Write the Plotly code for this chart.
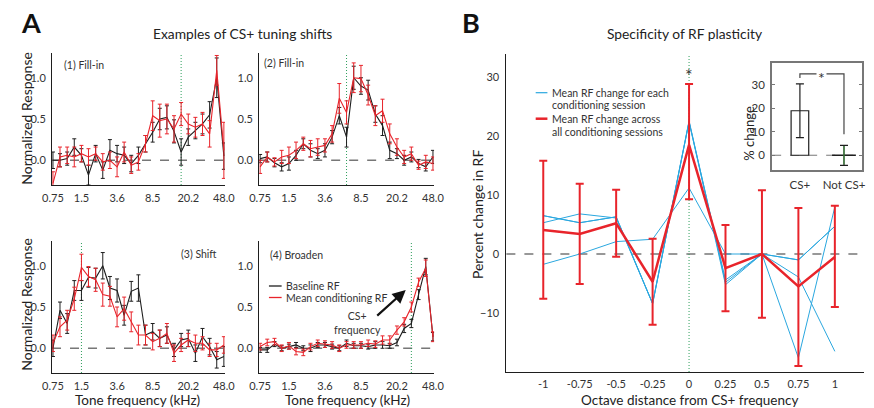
import math
import plotly.graph_objects as go

W, H = 874, 408
FONT = "Lato"
RED = "#e8242b"
BLACK = "#1e1e1e"
BLUE = "#2aa7df"
GREEN = "#2e9e5b"
GRAY = "#777777"

# ---------------- Panel A data ----------------
freqs_khz = [0.75, 0.89, 1.06, 1.26, 1.5, 1.78, 2.12, 2.52, 3.0, 3.57, 4.24, 5.04,
             6.0, 7.13, 8.49, 10.09, 12.0, 14.27, 16.97, 20.18, 24.0, 28.54, 33.94, 40.36, 48.0]
freq_tick_vals = [0.75, 1.5, 3.57, 8.49, 20.18, 48.0]
freq_tick_text = ["0.75", "1.5", "3.6", "8.5", "20.2", "48.0"]
resp_tick_vals = [0.0, 0.5, 1.0]
resp_tick_text = ["0.0", "0.5", "1.0"]
resp_range = [-0.3, 1.3]

ex1_label = "(1) Fill-in"
ex1_cs = 16.97
ex1_base = [0.0, 0.0, 0.02, 0.16, 0.06, -0.18, 0.08, -0.12, 0.12, 0.08, 0.06, -0.04, 0.06,
            0.2, 0.34, 0.5, 0.52, 0.35, 0.1, 0.28, 0.36, 0.44, 0.55, 1.0, 0.05]
ex1_base_err = [0.1, 0.08, 0.08, 0.1, 0.08, 0.12, 0.1, 0.1, 0.13, 0.1, 0.1, 0.1, 0.1,
                0.1, 0.12, 0.13, 0.14, 0.14, 0.16, 0.1, 0.1, 0.12, 0.16, 0.24, 0.16]
ex1_cond = [-0.28, 0.04, 0.06, 0.04, 0.08, 0.04, 0.08, -0.02, 0.0, -0.08, 0.1, -0.06, -0.02,
            0.2, 0.54, 0.48, 0.5, 0.38, 0.56, 0.44, 0.4, 0.44, 0.32, 1.09, 0.12]
ex1_cond_err = [0.14, 0.12, 0.1, 0.12, 0.1, 0.1, 0.08, 0.1, 0.1, 0.12, 0.12, 0.1, 0.1,
                0.1, 0.18, 0.2, 0.18, 0.16, 0.14, 0.12, 0.12, 0.14, 0.16, 0.18, 0.34]

ex2_label = "(2) Fill-in"
ex2_cs = 6.0
ex2_base = [0.02, 0.04, -0.03, -0.08, -0.04, 0.06, 0.2, 0.12, 0.08, 0.12, 0.28, 0.54, 0.28,
            1.0, 0.9, 0.85, 0.56, 0.42, 0.12, 0.08, 0.0, 0.04, -0.04, -0.08, 0.04]
ex2_base_err = [0.05, 0.06, 0.05, 0.05, 0.08, 0.06, 0.06, 0.08, 0.06, 0.08, 0.08, 0.1, 0.12,
                0.14, 0.1, 0.12, 0.1, 0.12, 0.1, 0.06, 0.06, 0.06, 0.05, 0.05, 0.08]
ex2_cond = [-0.08, 0.04, -0.02, 0.04, 0.06, 0.12, 0.2, 0.14, 0.16, 0.18, 0.32, 0.75, 0.58,
            1.0, 0.99, 0.79, 0.54, 0.6, 0.32, 0.16, 0.04, 0.08, -0.06, -0.02, -0.04]
ex2_cond_err = [0.08, 0.06, 0.05, 0.08, 0.1, 0.1, 0.08, 0.1, 0.1, 0.08, 0.1, 0.18, 0.14,
                0.18, 0.16, 0.12, 0.12, 0.14, 0.12, 0.1, 0.08, 0.08, 0.05, 0.08, 0.08]

ex3_label = "(3) Shift"
ex3_cs = 1.5
ex3_base = [0.0, 0.46, 0.3, 0.7, 0.7, 0.86, 0.85, 1.0, 0.73, 0.7, 0.4, 0.69, 0.73,
            0.16, 0.2, 0.12, 0.16, -0.02, 0.1, 0.12, -0.06, 0.14, 0.02, -0.14, -0.1]
ex3_base_err = [0.1, 0.1, 0.12, 0.12, 0.12, 0.12, 0.12, 0.16, 0.14, 0.14, 0.12, 0.12, 0.16,
                0.12, 0.1, 0.1, 0.1, 0.08, 0.08, 0.1, 0.1, 0.1, 0.1, 0.1, 0.12]
ex3_cond = [0.06, 0.26, 0.34, 0.6, 0.98, 0.87, 0.83, 0.65, 0.63, 0.38, 0.48, 0.32, 0.16,
            0.16, 0.08, 0.12, 0.18, -0.06, 0.04, 0.1, 0.06, 0.06, -0.02, -0.02, 0.04]
ex3_cond_err = [0.1, 0.12, 0.12, 0.14, 0.16, 0.12, 0.14, 0.14, 0.12, 0.12, 0.14, 0.12, 0.12,
                0.12, 0.1, 0.1, 0.12, 0.1, 0.08, 0.08, 0.1, 0.08, 0.08, 0.08, 0.1]

ex4_label = "(4) Broaden"
ex4_cs = 28.54
ex4_base = [-0.02, -0.02, 0.05, 0.0, 0.02, 0.04, 0.0, 0.0, 0.04, 0.04, 0.02, 0.0, 0.06,
            0.03, 0.03, 0.02, 0.04, 0.04, 0.03, 0.07, 0.24, 0.3, 0.65, 0.99, 0.14]
ex4_base_err = [0.03, 0.03, 0.03, 0.03, 0.03, 0.03, 0.03, 0.04, 0.03, 0.03, 0.03, 0.03, 0.04,
                0.03, 0.03, 0.03, 0.04, 0.04, 0.03, 0.04, 0.05, 0.05, 0.06, 0.1, 0.05]
ex4_cond = [0.02, 0.07, 0.08, 0.0, 0.03, -0.04, -0.05, 0.02, 0.06, 0.05, 0.04, 0.0, 0.04,
            0.04, 0.04, 0.06, 0.05, 0.1, 0.1, 0.22, 0.32, 0.5, 0.8, 0.97, 0.14]
ex4_cond_err = [0.04, 0.04, 0.04, 0.04, 0.04, 0.04, 0.04, 0.04, 0.04, 0.04, 0.04, 0.04, 0.04,
                0.04, 0.04, 0.04, 0.04, 0.05, 0.05, 0.05, 0.05, 0.06, 0.05, 0.1, 0.06]

# ---------------- Panel B data ----------------
octave_dist = [-1, -0.75, -0.5, -0.25, 0, 0.25, 0.5, 0.75, 1]
octave_tick_text = ["-1", "-0.75", "-0.5", "-0.25", "0", "0.25", "0.5", "0.75", "1"]
session_1 = [6.5, 5.3, 6.3, -8.4, 22.4, -4.4, 0.0, -1.0, 4.7]
session_2 = [5.3, 6.8, 6.1, -8.4, 22.4, -5.2, 0.0, -17.6, 8.0]
session_3 = [-1.75, 0.0, 2.1, 2.5, 11.2, 0.0, 0.0, -3.9, -16.5]
session_4 = [6.5, 5.3, 6.3, -8.4, 22.6, -4.8, 0.0, -1.0, 4.7]
mean_change = [4.05, 3.4, 5.2, -4.7, 18.5, -2.4, 0.0, -5.5, -0.5]
mean_upper = [15.8, 11.9, 10.9, 2.6, 28.8, 4.9, 10.8, 7.8, 8.2]
mean_lower = [-7.6, -5.1, -0.45, -12.0, 9.3, -9.7, -10.8, -19.0, -9.0]

inset_groups = ["CS+", "Not CS+"]
inset_mean = [19.0, 0.0]
inset_upper = [30.5, 4.2]
inset_lower = [7.5, -4.3]
inset_bracket_top = 34.7
inset_bracket_ends = [33.0, 9.0]


def px(x):
    return x / W


def py(y):
    return 1 - y / H


fig = go.Figure()

examples = [
    (ex1_label, ex1_cs, ex1_base, ex1_base_err, ex1_cond, ex1_cond_err),
    (ex2_label, ex2_cs, ex2_base, ex2_base_err, ex2_cond, ex2_cond_err),
    (ex3_label, ex3_cs, ex3_base, ex3_base_err, ex3_cond, ex3_cond_err),
    (ex4_label, ex4_cs, ex4_base, ex4_base_err, ex4_cond, ex4_cond_err),
]

for k, (label, cs, base, base_err, cond, cond_err) in enumerate(examples, start=1):
    xa = "x" if k == 1 else f"x{k}"
    ya = "y" if k == 1 else f"y{k}"
    fig.add_trace(go.Scatter(x=[cs, cs], y=resp_range, mode="lines", xaxis=xa, yaxis=ya,
                             line=dict(color=GREEN, width=1, dash="1px,2px"), showlegend=False))
    fig.add_trace(go.Scatter(x=freqs_khz, y=base, mode="lines", xaxis=xa, yaxis=ya,
                             line=dict(color=BLACK, width=1.1), showlegend=False,
                             error_y=dict(type="data", array=base_err, color=BLACK,
                                          thickness=1, width=2)))
    fig.add_trace(go.Scatter(x=freqs_khz, y=cond, mode="lines", xaxis=xa, yaxis=ya,
                             line=dict(color=RED, width=1.1), showlegend=False,
                             error_y=dict(type="data", array=cond_err, color=RED,
                                          thickness=1, width=2)))

# Panel B traces
for s in [session_1, session_2, session_3, session_4]:
    fig.add_trace(go.Scatter(x=octave_dist, y=s, mode="lines", xaxis="x5", yaxis="y5",
                             line=dict(color=BLUE, width=1), showlegend=False))
fig.add_trace(go.Scatter(
    x=octave_dist, y=mean_change, mode="lines", xaxis="x5", yaxis="y5",
    line=dict(color=RED, width=2.5), showlegend=False,
    error_y=dict(type="data", symmetric=False,
                 array=[u - m for u, m in zip(mean_upper, mean_change)],
                 arrayminus=[m - l for l, m in zip(mean_lower, mean_change)],
                 color=RED, thickness=2, width=4)))

# Inset
fig.add_trace(go.Bar(x=[1], y=[inset_mean[0]], width=0.4, xaxis="x6", yaxis="y6",
                     marker=dict(color="white", line=dict(color=BLACK, width=1.2)),
                     error_y=dict(type="data", symmetric=False,
                                  array=[inset_upper[0] - inset_mean[0]],
                                  arrayminus=[inset_mean[0] - inset_lower[0]],
                                  color=BLACK, thickness=1.2, width=4),
                     showlegend=False))
fig.add_trace(go.Scatter(x=[2], y=[inset_mean[1]], mode="markers", xaxis="x6", yaxis="y6",
                         marker=dict(size=1, color=BLACK, opacity=0), showlegend=False,
                         error_x=dict(type="constant", value=0.27, color=BLACK, thickness=1.3, width=0),
                         error_y=dict(type="data", symmetric=False,
                                      array=[inset_upper[1] - inset_mean[1]],
                                      arrayminus=[inset_mean[1] - inset_lower[1]],
                                      color=BLACK, thickness=1.2, width=4)))
fig.add_trace(go.Scatter(x=[2], y=[inset_mean[1]], mode="markers", xaxis="x6", yaxis="y6",
                         marker=dict(size=1, color=GREEN, opacity=0), showlegend=False,
                         error_y=dict(type="data", symmetric=False,
                                      array=[inset_upper[1] - inset_mean[1] - 0.3],
                                      arrayminus=[inset_mean[1] - inset_lower[1] - 0.3],
                                      color="#3d8a3d", thickness=1.2, width=0)))
fig.add_trace(go.Scatter(x=[1, 1, 2, 2],
                         y=[inset_bracket_ends[0], inset_bracket_top, inset_bracket_top, inset_bracket_ends[1]],
                         mode="lines", xaxis="x6", yaxis="y6",
                         line=dict(color="#444", width=1.2), showlegend=False))

tickfont = dict(family=FONT, size=11, color="#333")

def a_xaxis(dom, anchor):
    return dict(domain=dom, anchor=anchor, type="log",
                range=[math.log10(0.733), math.log10(49.3)],
                tickvals=freq_tick_vals, ticktext=freq_tick_text, tickfont=tickfont,
                showline=True, linecolor=BLACK, linewidth=1, ticks="", showgrid=False,
                zeroline=False, ticklabelstandoff=3)

def a_yaxis(dom, anchor):
    return dict(domain=dom, anchor=anchor, range=resp_range,
                tickvals=resp_tick_vals, ticktext=resp_tick_text, tickfont=tickfont,
                showline=True, linecolor=BLACK, linewidth=1, ticks="", showgrid=False,
                zeroline=False, ticklabelstandoff=3)

left_dom = [px(43), px(220)]
right_dom = [px(255), px(434)]
top_dom = [py(185), py(53)]
bot_dom = [py(373), py(241)]

layout = dict(
    width=W, height=H, margin=dict(l=0, r=0, t=0, b=0),
    paper_bgcolor="white", plot_bgcolor="rgba(0,0,0,0)",
    font=dict(family=FONT, color="#222"),
    showlegend=False,
    xaxis=a_xaxis(left_dom, "y"), yaxis=a_yaxis(top_dom, "x"),
    xaxis2=a_xaxis(right_dom, "y2"), yaxis2=a_yaxis(top_dom, "x2"),
    xaxis3=a_xaxis(left_dom, "y3"), yaxis3=a_yaxis(bot_dom, "x3"),
    xaxis4=a_xaxis(right_dom, "y4"), yaxis4=a_yaxis(bot_dom, "x4"),
    xaxis5=dict(domain=[px(508), 1.0], anchor="y5", range=[-1.253, 1.2],
                tickvals=octave_dist, ticktext=octave_tick_text, tickfont=tickfont,
                showline=True, linecolor=BLACK, linewidth=1, ticks="", showgrid=False,
                zeroline=False, ticklabelstandoff=2),
    yaxis5=dict(domain=[py(372), py(54)], anchor="x5", range=[-20, 33.9],
                tickvals=[-10, 0, 10, 20, 30], tickfont=tickfont,
                showline=True, linecolor=BLACK, linewidth=1, ticks="", showgrid=False,
                zeroline=False, ticklabelstandoff=4),
    xaxis6=dict(domain=[px(780), px(872)], anchor="y6", range=[0.37, 2.41],
                tickvals=[1, 2], ticktext=inset_groups,
                tickfont=dict(family=FONT, size=11.5, color="#333"),
                showline=True, mirror=True, linecolor="#777", linewidth=2, ticks="",
                showgrid=False, zeroline=False, ticklabelstandoff=3),
    yaxis6=dict(domain=[py(170), py(62.7)], anchor="x6", range=[-6.3, 39.5],
                tickvals=[0, 10, 20, 30], tickfont=dict(family=FONT, size=11.5, color="#333"),
                showline=True, mirror="ticks", linecolor="#777", linewidth=2, ticks="inside",
                ticklen=3, tickcolor="#777", showgrid=False, zeroline=False,
                ticklabelstandoff=3),
)
fig.update_layout(**layout)

shapes = []
for k in range(1, 5):
    xd = "x domain" if k == 1 else f"x{k} domain"
    yr = "y" if k == 1 else f"y{k}"
    shapes.append(dict(type="line", xref=xd, yref=yr, x0=0, x1=1, y0=0, y1=0,
                       line=dict(color=GRAY, width=1.5, dash="dash"), layer="below"))
shapes.append(dict(type="line", xref="x5 domain", yref="y5", x0=0, x1=1, y0=0, y1=0,
                   line=dict(color=GRAY, width=1.5, dash="dash"), layer="below"))
shapes.append(dict(type="line", xref="x5", yref="y5 domain", x0=0, x1=0, y0=0, y1=1,
                   line=dict(color=GREEN, width=1, dash="1px,2px"), layer="below"))
shapes.append(dict(type="line", xref="x6 domain", yref="y6", x0=0, x1=1, y0=0, y1=0,
                   line=dict(color=GRAY, width=1, dash="dash"), layer="below"))
shapes.append(dict(type="line", xref="paper", yref="paper", x0=px(265), x1=px(278),
                   y0=py(286), y1=py(286), line=dict(color=BLACK, width=1.3)))
shapes.append(dict(type="line", xref="paper", yref="paper", x0=px(265), x1=px(278),
                   y0=py(297.5), y1=py(297.5), line=dict(color=RED, width=1.3)))
shapes.append(dict(type="line", xref="paper", yref="paper", x0=px(538), x1=px(550),
                   y0=py(92.7), y1=py(92.7), line=dict(color=BLUE, width=1.2)))
shapes.append(dict(type="line", xref="paper", yref="paper", x0=px(538), x1=px(550),
                   y0=py(118.7), y1=py(118.7), line=dict(color=RED, width=2.5)))

annotations = []

def text(x, y, s, size=11, xanchor="center", yanchor="middle", angle=0, bold=False, color="#222"):
    annotations.append(dict(xref="paper", yref="paper", x=px(x), y=py(y), text=(f"<b>{s}</b>" if bold else s),
                            showarrow=False, xanchor=xanchor, yanchor=yanchor, textangle=angle,
                            font=dict(family=FONT, size=size, color=color)))

text(22, 22, "A", size=27, bold=True, color="#111")
text(472, 22, "B", size=27, bold=True, color="#111")
text(238, 33, "Examples of CS+ tuning shifts", size=13.8)
text(690, 33, "Specificity of RF plasticity", size=13.8)
text(16, 119, "Normalized Response", size=14, angle=-90)
text(16, 305, "Normalized Response", size=14, angle=-90)
text(130, 399.5, "Tone frequency (kHz)", size=13.5)
text(345, 399.5, "Tone frequency (kHz)", size=13.5)
text(53, 65, ex1_label, size=10.5, xanchor="left", color="#333")
text(258, 63, ex2_label, size=10.5, xanchor="left", color="#333")
text(173, 254, ex3_label, size=10.5, xanchor="left", color="#333")
text(264, 255, ex4_label, size=10.5, xanchor="left", color="#333")
text(280, 286, "Baseline RF", size=10.5, xanchor="left", color="#333")
text(280, 297.5, "Mean conditioning RF", size=10.5, xanchor="left", color="#333")
text(356, 323, "CS+<br>frequency", size=10.5, color="#333")
text(478, 215, "Percent change in RF", size=14, angle=-90)
text(695, 399.5, "Octave distance from CS+ frequency", size=13.5)
text(553, 92.7, "Mean RF change for each", size=10.5, xanchor="left", color="#333")
text(553, 105.3, "conditioning session", size=10.5, xanchor="left", color="#333")
text(553, 118.7, "Mean RF change across", size=10.5, xanchor="left", color="#333")
text(553, 131.7, "all conditioning sessions", size=10.5, xanchor="left", color="#333")
text(756, 133, "% change", size=13, angle=-90)

annotations.append(dict(xref="paper", yref="paper", x=px(405), y=py(290), ax=-30, ay=27,
                        text="", showarrow=True, arrowhead=2, arrowsize=1.2, arrowwidth=2.2,
                        arrowcolor="#111"))
annotations.append(dict(xref="x5", yref="y5", x=0, y=31.1, text="*", showarrow=False,
                        yshift=-4, font=dict(family=FONT, size=18, color="#333")))
annotations.append(dict(xref="x6", yref="y6", x=1.5, y=inset_bracket_top, text="*", showarrow=False,
                        yshift=-4, bgcolor="white", font=dict(family=FONT, size=16, color="#333")))

fig.update_layout(shapes=shapes, annotations=annotations)
fig.write_html("out.html", config={"displayModeBar": False},
               post_script="document.body.style.margin='0';document.body.style.overflow='hidden';")
